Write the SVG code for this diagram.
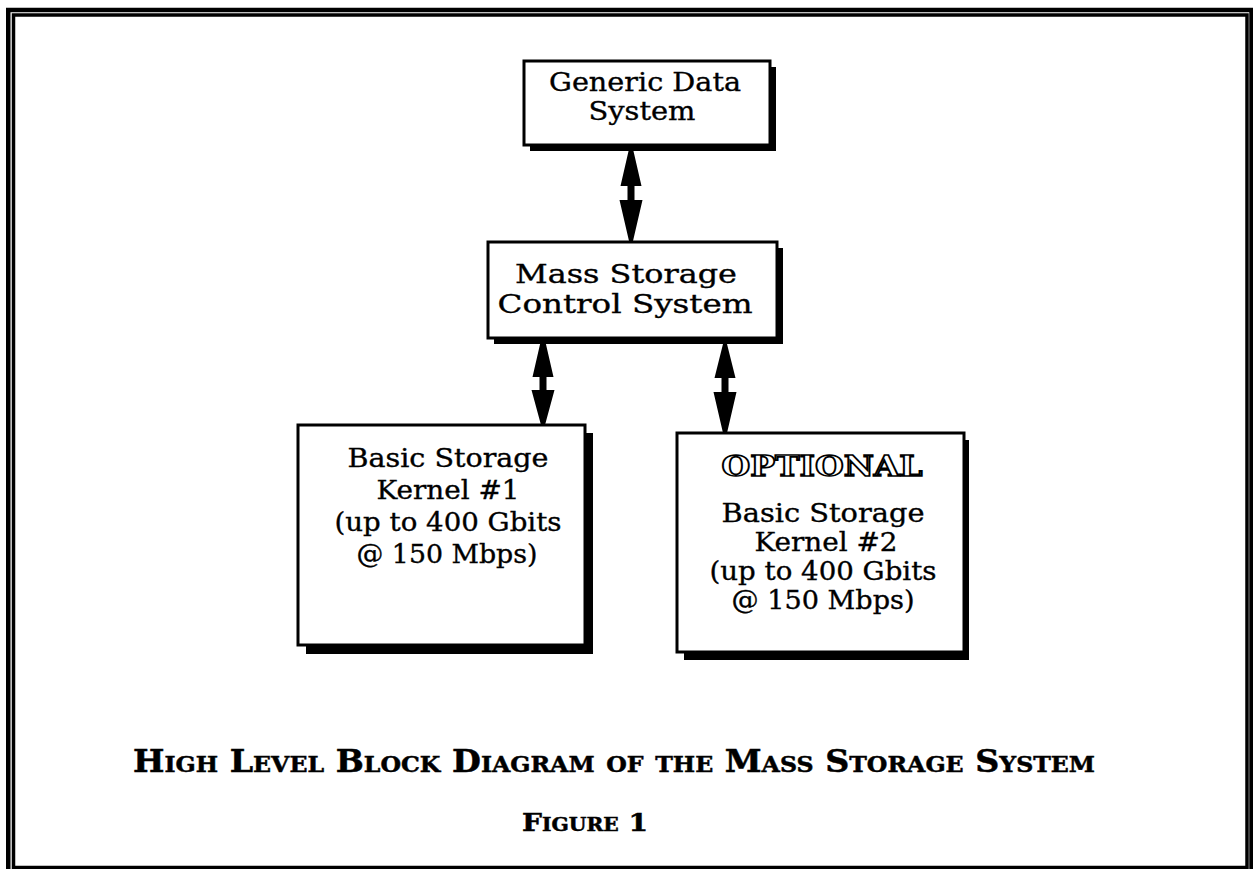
<svg xmlns="http://www.w3.org/2000/svg" width="1253" height="869" viewBox="0 0 1253 869">
<style>
.frame{fill:none;stroke:#000}
.shadow{fill:#000}
.box{fill:#fff;stroke:#000;stroke-width:3}
.t{font-family:"DejaVu Serif","Liberation Serif",serif;font-size:26px;fill:#000;stroke:#000;stroke-width:0.35;text-anchor:middle}
.opt{font-family:"DejaVu Serif","Liberation Serif",serif;font-size:27px;font-weight:bold;fill:#fff;stroke:#000;stroke-width:1.6;text-anchor:middle}
.cap{font-family:"DejaVu Serif","Liberation Serif",serif;font-weight:bold;font-variant:small-caps;fill:#000;stroke:#000;stroke-width:0.5;text-anchor:middle}
.arrow{fill:#000}
</style>
<rect width="1253" height="869" fill="#fff"/>
<g id="frame">
<rect class="frame" x="8.25" y="10" width="1243.25" height="870" stroke-width="4.5"/>
<rect class="frame" x="13.5" y="15" width="1233.5" height="852.5" stroke-width="3.5"/>
</g>
<g id="generic-data-system">
<rect class="shadow" x="530" y="67" width="246" height="84"/>
<rect class="box" x="524" y="61" width="246" height="84"/>
<text class="t" x="645" y="91" textLength="192" lengthAdjust="spacingAndGlyphs">Generic Data</text>
<text class="t" x="642" y="120" textLength="107" lengthAdjust="spacingAndGlyphs">System</text>
</g>
<g id="mass-storage-control-system">
<rect class="shadow" x="494" y="248" width="289" height="96"/>
<rect class="box" x="488" y="242" width="289" height="96"/>
<text class="t" x="626" y="283" textLength="222" lengthAdjust="spacingAndGlyphs">Mass Storage</text>
<text class="t" x="625" y="313" textLength="255" lengthAdjust="spacingAndGlyphs">Control System</text>
</g>
<g id="kernel-1">
<rect class="shadow" x="306" y="433" width="287" height="221"/>
<rect class="box" x="298" y="425" width="287" height="220"/>
<text class="t" x="448" y="467" textLength="201" lengthAdjust="spacingAndGlyphs">Basic Storage</text>
<text class="t" x="448" y="499" textLength="143" lengthAdjust="spacingAndGlyphs">Kernel #1</text>
<text class="t" x="448" y="531" textLength="227" lengthAdjust="spacingAndGlyphs">(up to 400 Gbits</text>
<text class="t" x="447" y="563" textLength="181" lengthAdjust="spacingAndGlyphs">@ 150 Mbps)</text>
</g>
<g id="kernel-2">
<rect class="shadow" x="684" y="440" width="285" height="220"/>
<rect class="box" x="677" y="433" width="287" height="219"/>
<text class="opt" x="822" y="476" textLength="201" lengthAdjust="spacingAndGlyphs">OPTIONAL</text>
<text class="t" x="823" y="522" textLength="203" lengthAdjust="spacingAndGlyphs">Basic Storage</text>
<text class="t" x="826" y="551" textLength="143" lengthAdjust="spacingAndGlyphs">Kernel #2</text>
<text class="t" x="823" y="580" textLength="227" lengthAdjust="spacingAndGlyphs">(up to 400 Gbits</text>
<text class="t" x="823" y="609" textLength="183" lengthAdjust="spacingAndGlyphs">@ 150 Mbps)</text>
</g>
<g id="connectors">
<polygon class="arrow" points="629,149 633,149 641.5,186 634.5,186 634.5,200 642.5,200 633,241 629,241 619.5,200 627.5,200 627.5,186 620.5,186"/>
<polygon class="arrow" points="541,340 545,340 553.5,377 546.5,377 546.5,390 554.5,390 545,425 541,425 531.5,390 539.5,390 539.5,377 532.5,377"/>
<polygon class="arrow" points="723,344 727,344 735.5,378 728.5,378 728.5,392 736.5,392 727,433 723,433 713.5,392 721.5,392 721.5,378 714.5,378"/>
</g>
<g id="caption">
<text class="cap" x="614" y="772" font-size="31" textLength="962" lengthAdjust="spacingAndGlyphs">High Level Block Diagram of the Mass Storage System</text>
<text class="cap" x="585" y="831" font-size="25" textLength="126" lengthAdjust="spacingAndGlyphs">Figure 1</text>
</g>
</svg>
